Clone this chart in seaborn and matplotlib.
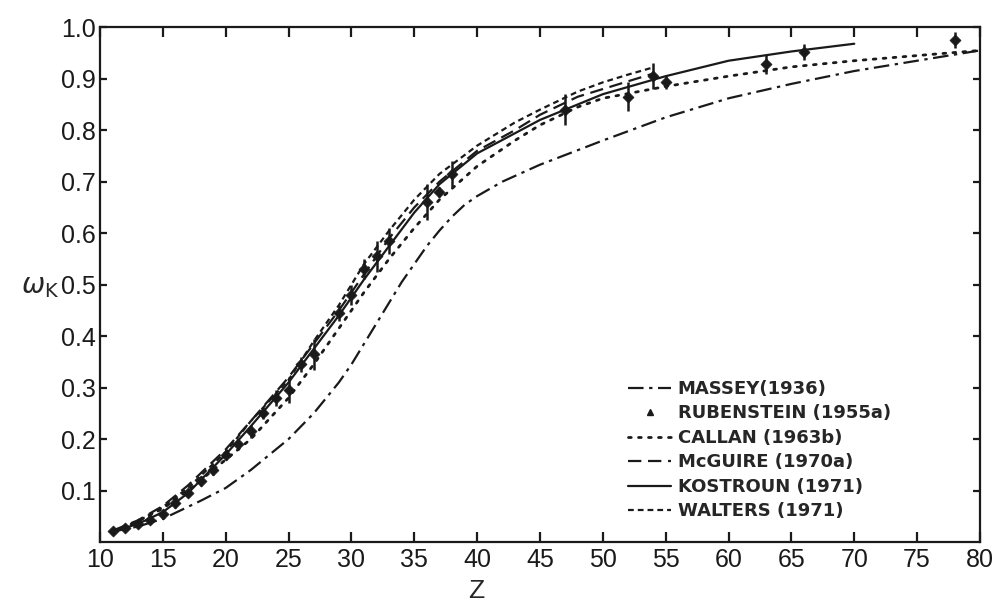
import numpy as np
import seaborn as sns
import matplotlib.pyplot as plt
from matplotlib.lines import Line2D

sns.set_theme(style="ticks")
plt.rcParams["font.family"] = ["Liberation Sans", "DejaVu Sans"]

# theory curves (Z, omega_K)
massey_z = [11, 13, 15, 18, 20, 22, 25, 27, 29, 30, 31, 32, 33, 34, 35, 36, 37, 38, 39, 40,
            42, 45, 50, 55, 60, 65, 70, 75, 80]
massey_w = [0.02, 0.03, 0.045, 0.08, 0.105, 0.14, 0.20, 0.25, 0.31, 0.345, 0.385, 0.425,
            0.465, 0.505, 0.54, 0.575, 0.605, 0.632, 0.655, 0.672, 0.70, 0.733, 0.78,
            0.825, 0.862, 0.89, 0.915, 0.935, 0.955]

callan_z = [11, 13, 15, 17, 20, 22, 25, 27, 29, 31, 33, 35, 37, 40, 43, 45, 48, 50, 55, 60,
            65, 70, 75, 80]
callan_w = [0.02, 0.04, 0.065, 0.10, 0.16, 0.20, 0.28, 0.345, 0.415, 0.485, 0.55, 0.61,
            0.665, 0.73, 0.78, 0.81, 0.845, 0.862, 0.885, 0.905, 0.923, 0.935, 0.945, 0.955]

mcguire_z = [11, 13, 15, 17, 20, 22, 25, 27, 29, 31, 33, 35, 37, 40, 43, 45, 48, 50, 52, 54]
mcguire_w = [0.022, 0.042, 0.07, 0.11, 0.18, 0.235, 0.32, 0.385, 0.45, 0.52, 0.59, 0.65,
             0.70, 0.76, 0.80, 0.83, 0.865, 0.88, 0.895, 0.91]

kostroun_z = [11, 13, 15, 17, 20, 22, 25, 27, 29, 31, 33, 35, 37, 40, 45, 50, 55, 60, 65, 70]
kostroun_w = [0.02, 0.035, 0.058, 0.095, 0.17, 0.225, 0.31, 0.375, 0.44, 0.51, 0.575, 0.64,
              0.695, 0.755, 0.82, 0.87, 0.905, 0.935, 0.953, 0.968]

walters_z = [11, 13, 15, 17, 20, 22, 25, 27, 29, 31, 33, 35, 37, 40, 43, 45, 48, 50, 52, 54]
walters_w = [0.02, 0.04, 0.068, 0.105, 0.175, 0.235, 0.315, 0.39, 0.46, 0.54, 0.605, 0.665,
             0.715, 0.77, 0.815, 0.84, 0.875, 0.893, 0.908, 0.922]

# Rubenstein compilation, experimental points
rub_z = [11, 12, 13, 14, 15, 16, 17, 18, 19, 20, 21, 22, 23, 24, 25, 26, 27, 29, 30, 31,
         32, 33, 36, 37, 38, 47, 52, 54, 55, 63, 66, 78]
rub_w = [0.021, 0.027, 0.035, 0.042, 0.055, 0.075, 0.095, 0.118, 0.14, 0.17, 0.19, 0.215,
         0.25, 0.28, 0.295, 0.345, 0.365, 0.445, 0.48, 0.53, 0.555, 0.585, 0.66, 0.68,
         0.715, 0.84, 0.865, 0.905, 0.893, 0.928, 0.952, 0.975]
rub_err = [0.005, 0.005, 0.006, 0.006, 0.008, 0.008, 0.008, 0.01, 0.01, 0.01, 0.012, 0.012,
           0.012, 0.015, 0.025, 0.015, 0.03, 0.015, 0.02, 0.02, 0.03, 0.025, 0.035, 0.01,
           0.025, 0.03, 0.028, 0.025, 0.012, 0.018, 0.015, 0.015]

x_ticks = list(range(10, 81, 5))
y_ticks = [0.1, 0.2, 0.3, 0.4, 0.5, 0.6, 0.7, 0.8, 0.9, 1.0]

fig, ax = plt.subplots(figsize=(10.01, 6.06), dpi=100)
plt.subplots_adjust(left=0.0999, right=0.979, bottom=0.1056, top=0.955)

lw = 1.6
styles = {
    "massey": (0, (7, 2.5, 1.5, 2.5)),
    "callan": (0, (1, 2.6)),
    "mcguire": (0, (6, 3)),
    "kostroun": "-",
    "walters": (0, (2.6, 1.8)),
}

sns.lineplot(x=massey_z, y=massey_w, ax=ax, color="k", lw=lw, linestyle=styles["massey"])
sns.lineplot(x=callan_z, y=callan_w, ax=ax, color="k", lw=lw + 0.4, linestyle=styles["callan"],
             dash_capstyle="round")
sns.lineplot(x=mcguire_z, y=mcguire_w, ax=ax, color="k", lw=lw, linestyle=styles["mcguire"])
sns.lineplot(x=kostroun_z, y=kostroun_w, ax=ax, color="k", lw=lw, linestyle=styles["kostroun"])
sns.lineplot(x=walters_z, y=walters_w, ax=ax, color="k", lw=lw, linestyle=styles["walters"])

ax.errorbar(rub_z, rub_w, yerr=rub_err, fmt="none", ecolor="k", elinewidth=1.8, capsize=0)
sns.scatterplot(x=rub_z, y=rub_w, ax=ax, color="k", marker="D", s=32, edgecolor="k", zorder=5)

ax.set_xlim(10, 80)
ax.set_ylim(0, 1.0)
ax.set_xticks(x_ticks)
ax.set_yticks(y_ticks)
ax.set_xticklabels([str(t) for t in x_ticks])
ax.set_yticklabels([f"{t:.1f}" for t in y_ticks])

for side in ["left", "right", "top", "bottom"]:
    ax.spines[side].set_visible(True)
    ax.spines[side].set_linewidth(1.6)
    ax.spines[side].set_color("k")

ax.tick_params(axis="both", direction="in", length=7, width=1.6, colors="k",
               top=True, right=True, labelsize=18, pad=4)
ax.tick_params(axis="y", length=5, pad=3)

ax.set_xlabel("Z", fontsize=19)
ax.xaxis.set_label_coords(0.428, -0.072)
ax.set_ylabel(r"$\omega_{\mathrm{K}}$", fontsize=20, rotation=0)
ax.yaxis.set_label_coords(-0.068, 0.47)
ax.grid(False)

handles = [
    Line2D([], [], color="k", lw=lw, linestyle=styles["massey"]),
    Line2D([], [], color="k", lw=0, marker="^", markersize=5),
    Line2D([], [], color="k", lw=lw + 0.4, linestyle=styles["callan"], dash_capstyle="round"),
    Line2D([], [], color="k", lw=lw, linestyle=styles["mcguire"]),
    Line2D([], [], color="k", lw=lw, linestyle=styles["kostroun"]),
    Line2D([], [], color="k", lw=lw, linestyle=styles["walters"]),
]
labels = ["MASSEY(1936)", "RUBENSTEIN (1955a)", "CALLAN (1963b)",
          "McGUIRE (1970a)", "KOSTROUN (1971)", "WALTERS (1971)"]
leg = ax.legend(handles, labels, loc="upper left", bbox_to_anchor=(0.6, 0.315),
                frameon=False, handlelength=2.4, handletextpad=0.35, labelspacing=0.36,
                borderpad=0, borderaxespad=0,
                prop={"family": "DejaVu Sans", "size": 13, "weight": "bold"})

plt.savefig("out.png", dpi=100)
